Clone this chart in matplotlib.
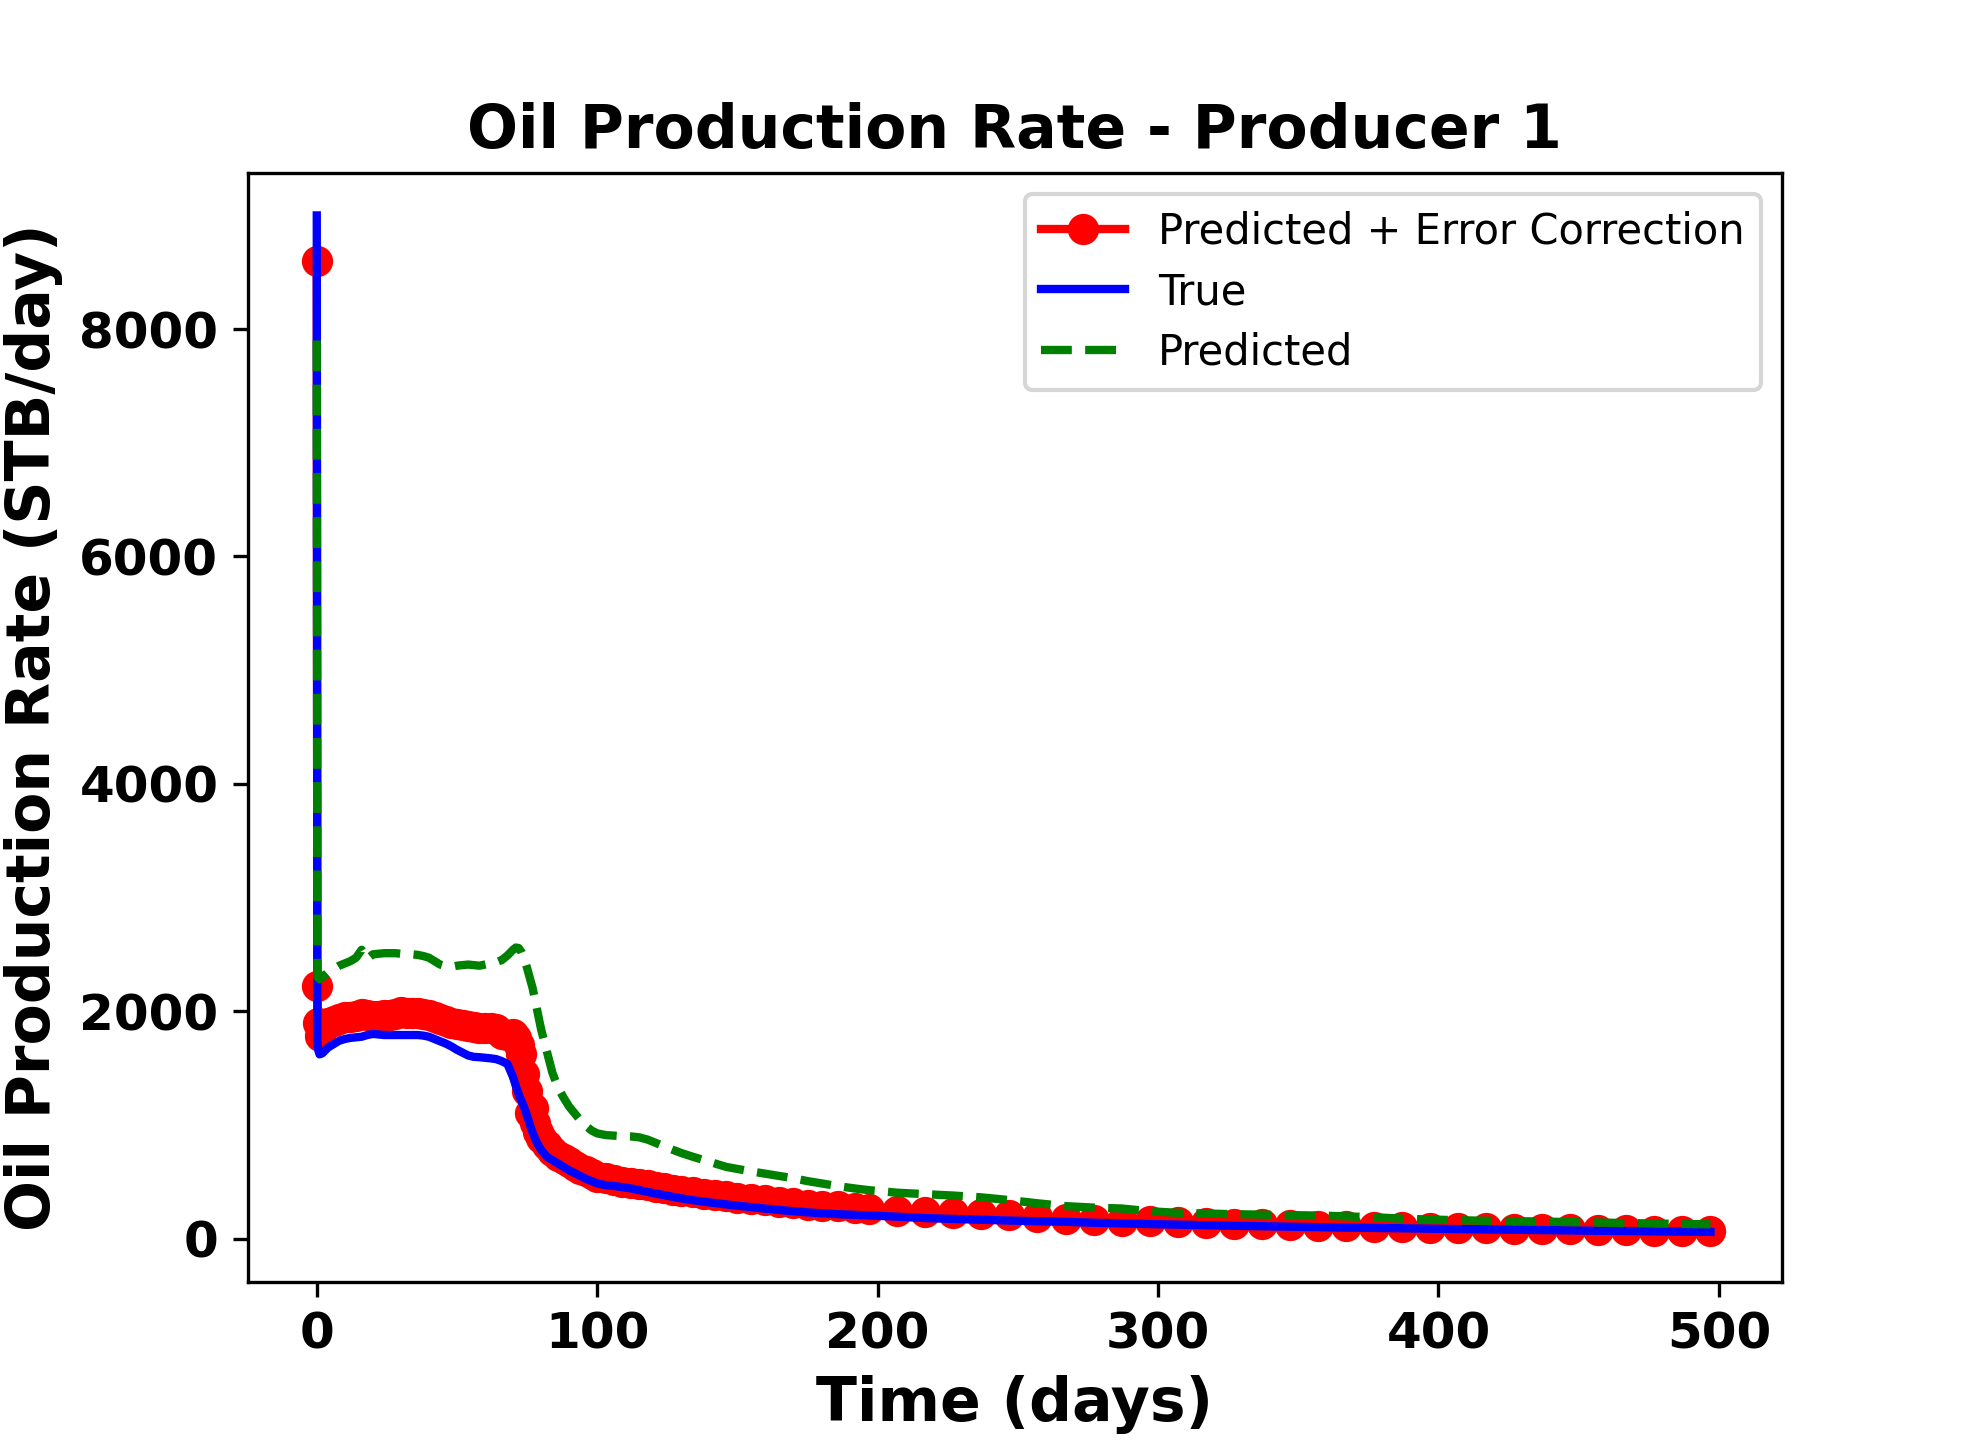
import matplotlib
matplotlib.use("Agg")
import matplotlib.pyplot as plt

# Time (days)
time_days = [0, 0.2, 0.5, 1, 2, 4, 6, 8, 10, 12, 14, 16, 18, 20, 22, 24, 26, 28, 30,
             32, 34, 36, 38, 40, 42, 44, 46, 48, 50, 52, 54, 56, 58, 60, 62, 64, 66,
             68, 70, 71, 72, 73, 74, 75, 76, 77, 78, 79, 80, 82, 84, 86, 88, 90, 92,
             94, 96, 98, 100, 103, 106, 109, 112, 115, 118, 121, 124, 127, 130, 134,
             138, 142, 146, 150, 155, 160, 165, 170, 175, 180, 186, 192, 197, 207,
             217, 227, 237, 247, 257, 267, 277, 287, 297, 307, 317, 327, 337, 347,
             357, 367, 377, 387, 397, 407, 417, 427, 437, 447, 457, 467, 477, 487, 497]

true_rate = [9000, 1750, 1660, 1620, 1630, 1680, 1710, 1740, 1755, 1765, 1770, 1775,
             1790, 1800, 1795, 1790, 1790, 1790, 1790, 1790, 1790, 1790, 1785, 1775,
             1755, 1735, 1715, 1690, 1660, 1635, 1610, 1598, 1595, 1590, 1585, 1578,
             1560, 1535, 1420, 1340, 1270, 1210, 1150, 1080, 1000, 930, 870, 820, 780,
             720, 690, 660, 630, 600, 575, 550, 525, 505, 485, 470, 462, 452, 441,
             426, 410, 395, 381, 367, 353, 338, 324, 312, 300, 289, 276, 263, 251,
             240, 230, 222, 214, 208, 203, 192, 180, 172, 165, 158, 152, 147, 139,
             133, 127, 122, 117, 112, 108, 104, 100, 96, 93, 90, 86, 83, 80, 77, 74,
             71, 68, 66, 63, 61, 58]

corrected_rate = [8600, 2220, 1900, 1780, 1850, 1900, 1910, 1930, 1945, 1950, 1960,
                  1975, 1965, 1960, 1960, 1965, 1970, 1975, 1990, 1985, 1980, 1985,
                  1975, 1965, 1950, 1930, 1910, 1895, 1885, 1875, 1870, 1860, 1855,
                  1850, 1855, 1840, 1800, 1790, 1800, 1760, 1700, 1620, 1450, 1300,
                  1100, 1150, 1020, 940, 880, 820, 770, 730, 700, 670, 640, 615, 590,
                  565, 545, 530, 515, 500, 490, 478, 468, 455, 442, 430, 420, 405,
                  395, 382, 370, 358, 345, 335, 322, 310, 298, 290, 282, 270, 258,
                  240, 232, 225, 218, 205, 190, 175, 165, 158, 150, 143, 137, 132,
                  127, 122, 112, 108, 104, 100, 96, 93, 90, 86, 83, 80, 76, 73, 70,
                  67, 64]

predicted_rate = [7900, 2300, 2290, 2280, 2300, 2340, 2370, 2400, 2420, 2440, 2470,
                  2540, 2460, 2500, 2505, 2510, 2510, 2510, 2505, 2505, 2500, 2495,
                  2485, 2470, 2440, 2410, 2395, 2390, 2400, 2405, 2410, 2405, 2400,
                  2410, 2420, 2430, 2450, 2490, 2540, 2560, 2555, 2520, 2460, 2380,
                  2290, 2200, 2080, 1960, 1840, 1650, 1460, 1330, 1240, 1160, 1100,
                  1040, 990, 950, 925, 910, 905, 900, 898, 890, 870, 840, 810, 780,
                  752, 720, 690, 660, 630, 612, 590, 570, 550, 530, 505, 485, 460,
                  440, 425, 403, 390, 378, 362, 338, 310, 285, 272, 264, 240, 226,
                  220, 214, 210, 206, 202, 195, 187, 175, 167, 161, 156, 153, 149,
                  145, 141, 136, 132, 128, 125]

x_ticks = [0, 100, 200, 300, 400, 500]
y_ticks = [0, 2000, 4000, 6000, 8000]

fig = plt.figure(figsize=(6.6, 4.8), dpi=300)
ax = fig.add_subplot(111)
fig.subplots_adjust(left=0.125, right=0.9, bottom=0.11, top=0.88)

ax.plot(time_days, corrected_rate, color='red', marker='o', linewidth=2,
        markersize=6.5, label='Predicted + Error Correction')
ax.plot(time_days, true_rate, color='blue', linewidth=2, label='True')
ax.plot(time_days, predicted_rate, color='green', linestyle='--', linewidth=2,
        label='Predicted')

ax.set_xticks(x_ticks)
ax.set_yticks(y_ticks)
ax.set_xlim(-24.7, 522.5)
ax.set_ylim(-379, 9375)
for lab in ax.get_xticklabels() + ax.get_yticklabels():
    lab.set_fontweight('bold')
    lab.set_fontsize(12)

ax.set_title('Oil Production Rate - Producer 1', fontsize=14.4, fontweight='bold')
ax.set_xlabel('Time (days)', fontsize=14.4, fontweight='bold')
ax.set_ylabel('Oil Production Rate (STB/day)', fontsize=14.4, fontweight='bold')
ax.legend(loc='upper right', fontsize=10, labelspacing=0.45)

fig.savefig('out.png', dpi=300)
